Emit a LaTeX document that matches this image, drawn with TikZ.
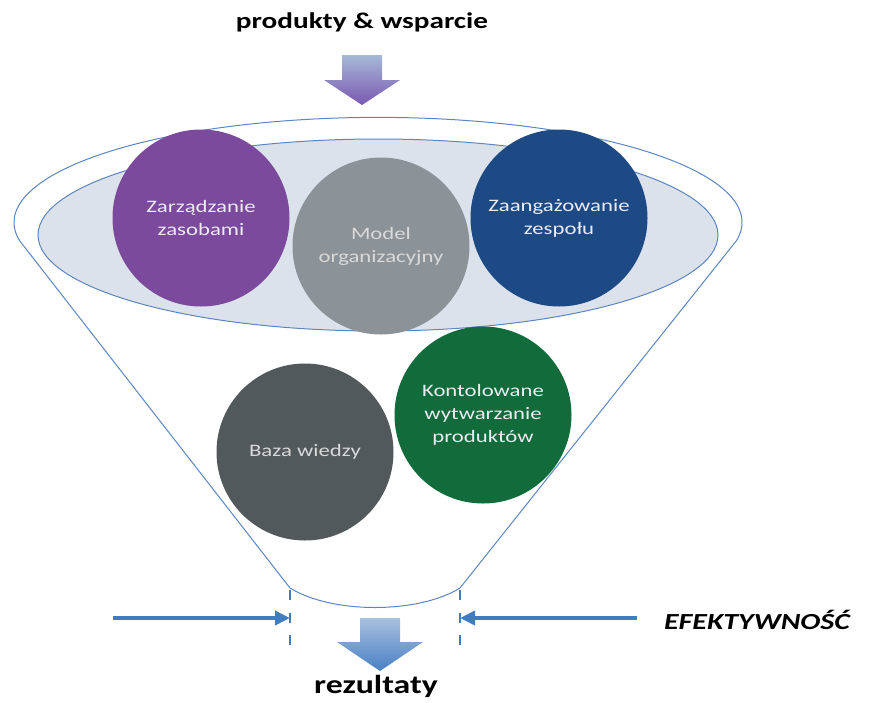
\documentclass[tikz,border=0pt]{standalone}
\usepackage{fontspec}
\setmainfont{Carlito}[FakeStretch=1.3]
\usetikzlibrary{arrows.meta}
\definecolor{fline}{HTML}{5B86C0}
\definecolor{innerfill}{HTML}{DCE2EB}
\definecolor{cpurple}{HTML}{7B4A9C}
\definecolor{cgrey}{HTML}{8C9398}
\definecolor{cnavy}{HTML}{1D4A85}
\definecolor{cdark}{HTML}{52595B}
\definecolor{cgreen}{HTML}{116B3B}
\definecolor{ablue}{HTML}{3F7DC0}
\definecolor{ctext}{HTML}{ECEAF2}
\definecolor{toptop}{HTML}{A6B9D8}
\definecolor{topbot}{HTML}{7A58B0}
\definecolor{bottop}{HTML}{A8C0DF}
\definecolor{botbot}{HTML}{4A80C4}
\tikzset{
  ball/.style={circle, minimum size=177pt, inner sep=0pt, align=center, text=ctext,
    font=\fontsize{17.5}{23}\selectfont},
  funnel/.style={draw=fline, line width=1pt},
  barrow/.style={draw=ablue, line width=3.6pt, -{Triangle[length=15pt,width=14pt]}},
  dashline/.style={draw=ablue, line width=2.8pt, dash pattern=on 10pt off 12.5pt},
  label/.style={font=\bfseries\fontsize{22.5}{26}\selectfont, text=black}
}
\begin{document}
\begin{tikzpicture}[x=1pt,y=-1pt]
\useasboundingbox (0,0) rectangle (881,702);
% funnel outline
\coordinate (fl) at (19.5,240.6);
\coordinate (fr) at (736.5,240.6);
\coordinate (bl) at (290,588);
\coordinate (br) at (460,588);
\draw[funnel] (fr) arc[start angle=-10,end angle=190,x radius=364pt,y radius=105pt] -- (bl)
  .. controls (332,614) and (418,614) .. (br) -- cycle;
% inner ellipse
\draw[funnel, fill=innerfill] (378,235) ellipse [x radius=340pt, y radius=96pt];
% circles
\node[ball, fill=cpurple] (zz) at (201,218) {Zarządzanie\\zasobami};
\node[ball, fill=cnavy] (ze) at (559,218) {Zaangażowanie\\zespołu};
\node[ball, fill=cgreen] (kw) at (483,415) {Kontolowane\\wytwarzanie\\produktów};
\node[ball, fill=cgrey, text=black!15] (mo) at (381,246) {Model\\organizacyjny};
\node[ball, fill=cdark, text=black!15] (bw) at (305,452) {Baza wiedzy};
% top arrow
\shade[top color=toptop, bottom color=topbot] (342,55) -- (382,55) -- (382,80) -- (400,80) -- (362,105) -- (324,80) -- (342,80) -- cycle;
\node[label] (title) at (362,22) {produkty \& wsparcie};
% bottom arrow
\shade[top color=bottop, bottom color=botbot] (360,618) -- (400,618) -- (400,642) -- (423,642) -- (380,671) -- (337,642) -- (360,642) -- cycle;
\node[label, font=\bfseries\fontsize{26}{30}\selectfont] (rez) at (376,686) {rezultaty};
% efficiency arrows
\coordinate (dl1) at (290,590);
\coordinate (dl2) at (290,650);
\coordinate (dr1) at (460,590);
\coordinate (dr2) at (460,650);
\draw[dashline] (dl1) -- (dl2);
\draw[dashline] (dr1) -- (dr2);
\coordinate (al) at (113,618);
\coordinate (ald) at (290,618);
\coordinate (ar) at (637,618);
\coordinate (ard) at (460,618);
\draw[barrow] (al) -- (ald);
\draw[barrow] (ar) -- (ard);
\node[font=\bfseries\itshape\fontsize{23}{27}\selectfont] (ef) at (757,620) {EFEKTYWNOŚĆ};
\end{tikzpicture}
\end{document}
